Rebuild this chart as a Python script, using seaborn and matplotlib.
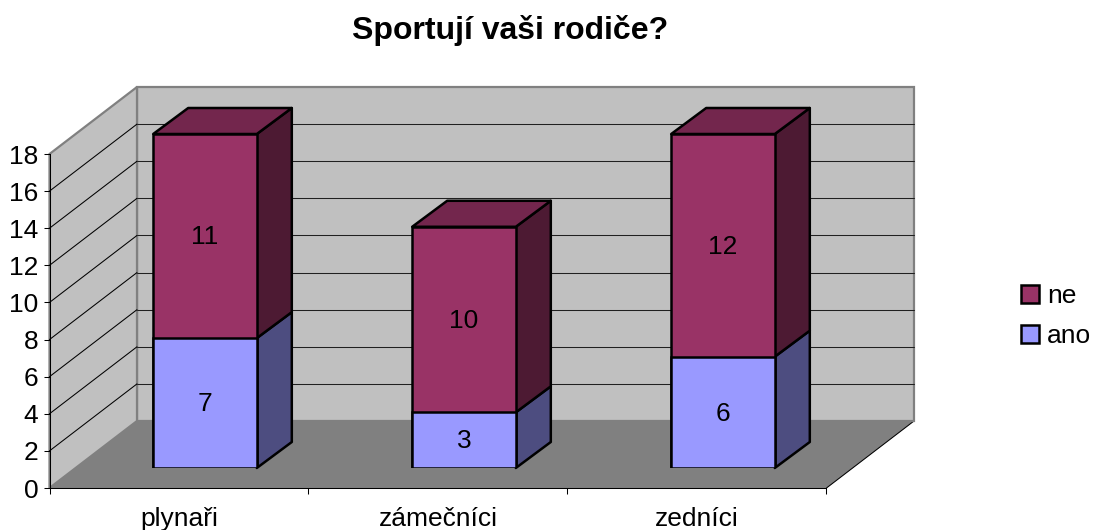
import matplotlib
matplotlib.use("Agg")
import matplotlib.pyplot as plt
from matplotlib.patches import Polygon, Patch
import pandas as pd
import seaborn as sns

# data
title = "Sportují vaši rodiče?"
categories = ["plynaři", "zámečníci", "zedníci"]
ano = [7, 3, 6]
ne = [11, 10, 12]
yticks = list(range(0, 20, 2))

# style
W, H = 1093, 530
C_NE, C_NE_SIDE, C_NE_TOP = "#993366", "#4D1A33", "#73264D"
C_ANO, C_ANO_SIDE = "#9999FF", "#4D4D80"
C_WALL, C_FLOOR = "#C0C0C0", "#808080"
FONT = 19
LW_BAR = 1.8
LW_THIN = 0.75

sns.set_theme(style="white")
plt.rcParams["font.family"] = ["Liberation Sans", "DejaVu Sans"]

df = pd.DataFrame({"kat": categories, "ano": ano, "ne": ne})
df["celkem"] = df["ano"] + df["ne"]

fig = plt.figure(figsize=(W / 100, H / 100), dpi=100, facecolor="white")


def axes_px(l, r, bottom, top):
    return fig.add_axes([l / W, (H - bottom) / H, (r - l) / W, (bottom - top) / H])


# axes in the plane of the bars' front faces
ax = axes_px(75.5, 852.5, 468, 134)
sns.barplot(df, x="kat", y="celkem", color=C_NE, saturation=1, width=0.4,
            edgecolor="black", linewidth=LW_BAR, zorder=4, ax=ax)
sns.barplot(df, x="kat", y="ano", color=C_ANO, saturation=1, width=0.4,
            edgecolor="black", linewidth=LW_BAR, zorder=4, ax=ax)
ax.set_ylim(0, 18)
ax.set_xlim(-0.5, 2.5)
ax.axis("off")

UX = 777 / 3     # px per category
UY = 334 / 18    # px per value


def off(px, py):
    return px / UX, py / UY


F = off(-26, -20)     # front wall plane
B = off(61.5, 47)     # back wall plane
D = off(35, 26)       # bar depth
XL, XR = -0.5, 2.5
Y0, Y1 = 0, 18
LABEL_SHIFT = 1.2 / UY


def pt(x, y, o):
    return (x + o[0], y + o[1])


def poly(points, **kw):
    kw.setdefault("clip_on", False)
    ax.add_patch(Polygon(points, closed=True, **kw))


# floor
poly([pt(XL, Y0, F), pt(XL, Y0, B), pt(XR, Y0, B), pt(XR, Y0, F)],
     facecolor=C_FLOOR, edgecolor="none", zorder=1)
ax.plot(*zip(pt(XR, Y0, F), pt(XR, Y0, B)), color="black", lw=LW_THIN, clip_on=False, zorder=1.2)
# side wall and back wall
poly([pt(XL, Y0, F), pt(XL, Y1, F), pt(XL, Y1, B), pt(XL, Y0, B)],
     facecolor=C_WALL, edgecolor=C_FLOOR, lw=1.6, zorder=1.5)
poly([pt(XL, Y0, B), pt(XL, Y1, B), pt(XR, Y1, B), pt(XR, Y0, B)],
     facecolor=C_WALL, edgecolor=C_FLOOR, lw=1.6, zorder=1.4)
# gridlines
for v in yticks[1:-1]:
    ax.plot(*zip(pt(XL, v, F), pt(XL, v, B)), color="black", lw=LW_THIN, clip_on=False, zorder=2)
    ax.plot(*zip(pt(XL, v, B), pt(XR, v, B)), color="#202020", lw=LW_THIN, clip_on=False, zorder=2)

# bar side and top faces
w = 0.2
for i, (a, n) in enumerate(zip(ano, ne)):
    t = a + n
    r = i + w
    l = i - w
    poly([(r, 0), (r, a), pt(r, a, D), pt(r, 0, D)],
         facecolor=C_ANO_SIDE, edgecolor="black", lw=LW_BAR, joinstyle="round", zorder=3)
    poly([(r, a), (r, t), pt(r, t, D), pt(r, a, D)],
         facecolor=C_NE_SIDE, edgecolor="black", lw=LW_BAR, joinstyle="round", zorder=3)
    poly([(l, t), (r, t), pt(r, t, D), pt(l, t, D)],
         facecolor=C_NE_TOP, edgecolor="black", lw=LW_BAR, joinstyle="round", zorder=3)
    ax.text(i, a / 2 - LABEL_SHIFT, str(a), ha="center", va="center", fontsize=FONT,
            color="black", zorder=6)
    ax.text(i, a + n / 2 - LABEL_SHIFT, str(n), ha="center", va="center", fontsize=FONT,
            color="black", zorder=6)

# axes in the front wall plane: carry the ticks and tick labels
axf = axes_px(49.5, 826.5, 488, 154)
axf.patch.set_visible(False)
axf.set_zorder(5)
axf.set_xlim(0, 3)
axf.set_ylim(0, 18)
axf.set_yticks(yticks)
axf.set_yticklabels([str(v) for v in yticks], fontsize=FONT, color="black")
axf.set_xticks([0, 1, 2, 3])
axf.set_xticklabels([])
axf.set_xticks([0.5, 1.5, 2.5], minor=True)
axf.set_xticklabels(categories, minor=True, fontsize=FONT, color="black")
axf.tick_params(axis="y", which="major", left=True, length=4, width=LW_THIN, color="black", pad=4)
axf.tick_params(axis="x", which="major", bottom=True, length=4, width=LW_THIN, color="black")
axf.tick_params(axis="x", which="minor", bottom=False, length=0, pad=14)
for s in ("top", "right"):
    axf.spines[s].set_visible(False)
for s in ("left", "bottom"):
    axf.spines[s].set_visible(True)
    axf.spines[s].set_color("black")
    axf.spines[s].set_linewidth(LW_THIN)
axf.grid(False)

# title
fig.suptitle(title, x=510 / W, y=1 - 31 / H, va="center", ha="center",
             fontsize=23, fontweight="bold", color="black")

# legend
fig.legend(handles=[Patch(facecolor=C_NE, edgecolor="black", lw=LW_BAR, label="ne"),
                    Patch(facecolor=C_ANO, edgecolor="black", lw=LW_BAR, label="ano")],
           loc="center left", bbox_to_anchor=(1021 / W, 1 - 316 / H), borderaxespad=0,
           borderpad=0, frameon=False, fontsize=FONT, labelcolor="black", handlelength=0.68,
           handleheight=0.68, handletextpad=0.3, labelspacing=0.62)

fig.savefig("out.png", dpi=100, facecolor="white")
